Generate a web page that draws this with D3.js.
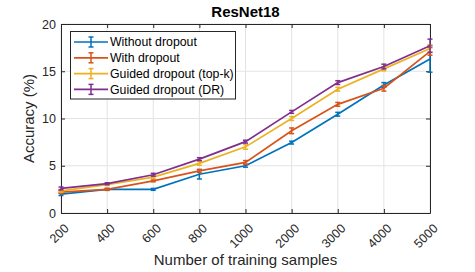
<!DOCTYPE html>
<html><head><meta charset="utf-8">
<script src="https://cdn.jsdelivr.net/npm/d3@7"></script>
<style>body{margin:0;background:#fff;} text{font-family:"Liberation Sans",Arial,sans-serif;}</style>
</head><body><svg id="c" width="475" height="272"></svg>
<script>
const categories = ["200","400","600","800","1000","2000","3000","4000","5000"];
const seriesNames = ["Without dropout","With dropout","Guided dropout (top-k)","Guided dropout (DR)"];
const withoutDropout = [2.0, 2.5, 2.5, 4.1, 5.0, 7.45, 10.45, 13.55, 16.3];
const withDropout    = [2.2, 2.5, 3.4, 4.45, 5.35, 8.7, 11.5, 13.2, 17.1];
const guidedTopK     = [2.35, 3.0, 3.8, 5.25, 7.0, 10.0, 13.1, 15.25, 17.4];
const guidedDR       = [2.6, 3.1, 4.05, 5.7, 7.55, 10.7, 13.8, 15.5, 17.7];
const errWithout = [0.15, 0.1, 0.1, 0.5, 0.15, 0.15, 0.2, 0.25, 1.4];
const errWith    = [0.15, 0.1, 0.1, 0.15, 0.2, 0.3, 0.2, 0.3, 0.4];
const errTopK    = [0.15, 0.1, 0.15, 0.2, 0.25, 0.2, 0.2, 0.2, 0.4];
const errDR      = [0.15, 0.1, 0.15, 0.15, 0.15, 0.15, 0.2, 0.25, 0.7];
const yTicks = [0, 5, 10, 15, 20];
const colors = ["#0072BD","#D95319","#EDB120","#7E2F8E"];

const series = [withoutDropout, withDropout, guidedTopK, guidedDR];
const errs = [errWithout, errWith, errTopK, errDR];

const svg = d3.select("#c");
const m = {l:61, r:45, t:24, b:59};
const W = 475, H = 272;
const x = d3.scalePoint().domain(categories).range([m.l, W - m.r]);
const y = d3.scaleLinear().domain([0, 20]).range([H - m.b, m.t]);
const axisColor = "#262626";

// grid
const g = svg.append("g");
g.selectAll(".vg").data(categories).join("line")
  .attr("x1", d=>x(d)).attr("x2", d=>x(d)).attr("y1", y(0)).attr("y2", y(20))
  .attr("stroke", "#e3e3e3").attr("stroke-width", 1);
g.selectAll(".hg").data(yTicks).join("line")
  .attr("x1", m.l).attr("x2", W-m.r).attr("y1", d=>y(d)).attr("y2", d=>y(d))
  .attr("stroke", "#e3e3e3").attr("stroke-width", 1);

// axes
const xAxis = svg.append("g").attr("transform", `translate(0,${y(0)})`)
  .call(d3.axisBottom(x).tickSizeInner(-4).tickSizeOuter(0));
xAxis.selectAll("text").attr("font-size", 12.5).attr("fill", axisColor)
  .attr("text-anchor", "end").attr("x", 0).attr("y", 0).attr("dy", "0.35em")
  .attr("transform", "translate(5,13) rotate(-45)");
const xTop = svg.append("g").attr("transform", `translate(0,${y(20)})`)
  .call(d3.axisTop(x).tickSizeInner(-4).tickSizeOuter(0).tickFormat(""));
const yAxis = svg.append("g").attr("transform", `translate(${m.l},0)`)
  .call(d3.axisLeft(y).tickValues(yTicks).tickSizeInner(-4).tickSizeOuter(0).tickPadding(5));
yAxis.selectAll("text").attr("font-size", 12.5).attr("fill", axisColor);
const yRight = svg.append("g").attr("transform", `translate(${W-m.r},0)`)
  .call(d3.axisRight(y).tickValues(yTicks).tickSizeInner(-4).tickSizeOuter(0).tickFormat(""));
[xAxis, xTop, yAxis, yRight].forEach(a => {
  a.selectAll("path").attr("stroke", axisColor).attr("stroke-width", 1);
  a.selectAll("line").attr("stroke", axisColor);
});

// series
const line = d3.line().x((d,i)=>x(categories[i])).y(d=>y(d));
series.forEach((s, k) => {
  const gs = svg.append("g");
  gs.append("path").datum(s).attr("d", line).attr("fill", "none")
    .attr("stroke", colors[k]).attr("stroke-width", 1.7);
  const cw = 2.5;
  s.forEach((v, i) => {
    const cx = x(categories[i]), e = errs[k][i];
    const y1 = y(v + e), y2 = y(v - e);
    gs.append("line").attr("x1", cx).attr("x2", cx).attr("y1", y1).attr("y2", y2)
      .attr("stroke", colors[k]).attr("stroke-width", 1.5);
    [y1, y2].forEach(yy => gs.append("line").attr("x1", cx-cw).attr("x2", cx+cw)
      .attr("y1", yy).attr("y2", yy).attr("stroke", colors[k]).attr("stroke-width", 1.5));
  });
});

// title & labels
svg.append("text").attr("x", (m.l + W - m.r)/2).attr("y", 17).attr("text-anchor", "middle")
  .attr("font-size", 15).attr("font-weight", "bold").attr("fill", "#000").text("ResNet18");
svg.append("text").attr("x", (m.l + W - m.r)/2).attr("y", 265).attr("text-anchor", "middle")
  .attr("font-size", 15).attr("fill", axisColor).text("Number of training samples");
svg.append("text").attr("transform", `translate(34,${(y(0)+y(20))/2}) rotate(-90)`)
  .attr("text-anchor", "middle").attr("font-size", 15).attr("fill", axisColor).text("Accuracy (%)");

// legend
const lg = svg.append("g");
lg.append("rect").attr("x", 70.5).attr("y", 31.5).attr("width", 165).attr("height", 67.5)
  .attr("fill", "#fff").attr("stroke", axisColor).attr("stroke-width", 1);
seriesNames.forEach((n, k) => {
  const yy = 42 + k*15.8;
  lg.append("line").attr("x1", 74).attr("x2", 108).attr("y1", yy).attr("y2", yy)
    .attr("stroke", colors[k]).attr("stroke-width", 1.7);
  lg.append("line").attr("x1", 91).attr("x2", 91).attr("y1", yy-5).attr("y2", yy+5)
    .attr("stroke", colors[k]).attr("stroke-width", 1.5);
  [yy-5, yy+5].forEach(q => lg.append("line").attr("x1", 88.5).attr("x2", 93.5).attr("y1", q).attr("y2", q)
    .attr("stroke", colors[k]).attr("stroke-width", 1.5));
  lg.append("text").attr("x", 110).attr("y", yy).attr("dy", "0.35em").attr("font-size", 12.3)
    .attr("fill", "#000").text(n);
});
</script></body></html>
